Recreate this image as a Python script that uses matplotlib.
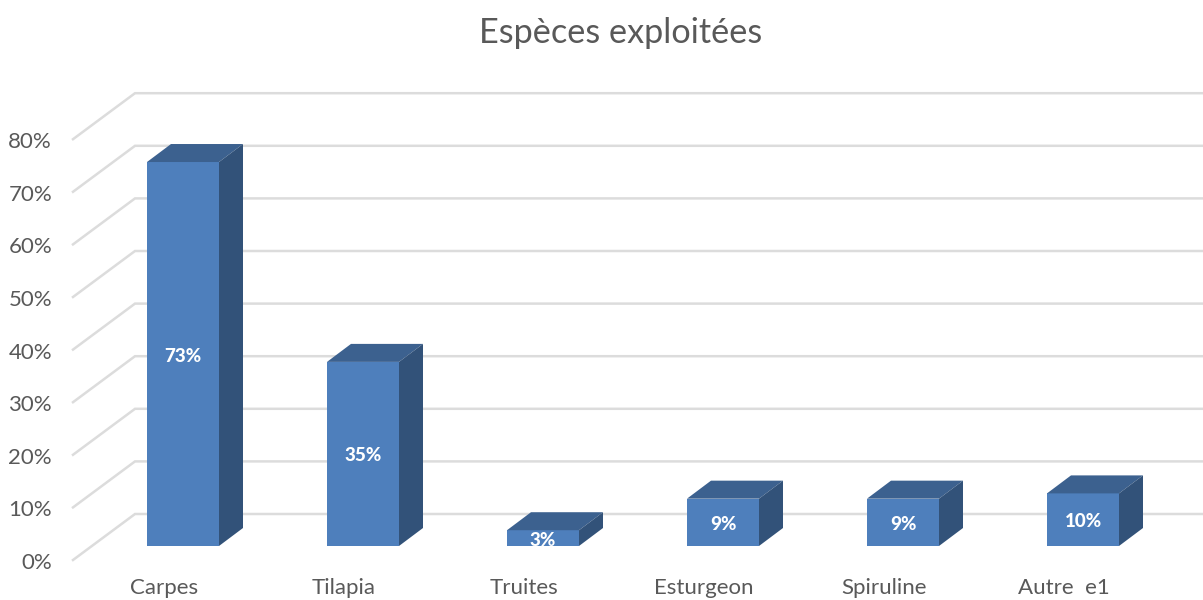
import matplotlib.pyplot as plt
import numpy as np

categories = ['Carpes', 'Tilapia', 'Truites', 'Esturgeon', 'Spiruline', 'Autre  e1']
values = [73, 35, 3, 9, 9, 10]
ticks = [0, 10, 20, 30, 40, 50, 60, 70, 80]
tick_labels = ['0%', '10%', '20%', '30%', '40%', '50%', '60%', '70%', '80%']

plt.rcParams['font.family'] = ['Lato', 'DejaVu Sans']

# pixel scale of the pseudo 3D projection
px_cat = 180
px_val = 5.26
to_cat = 1 / px_cat
to_val = 1 / px_val

fig = plt.figure(figsize=(12.03, 6.0), dpi=100)
ax = fig.add_axes([0, 0, 1, 1])
ax.set_xlim(-183 * to_cat, (1203 - 183) * to_cat)
ax.set_ylim(-54 * to_val, 546 * to_val)
ax.axis('off')

# floor offsets: front edge of the floor, back wall, depth of a bar
floor_dx, floor_dy = -110 * to_cat, -14 * to_val
wall_dx, wall_dy = -48 * to_cat, 32 * to_val
bar_dx, bar_dy = 24 * to_cat, 18 * to_val
right_end = (1203 - 183) * to_cat

# wall gridlines with their slanted floor part
for t, lab in zip(ticks, tick_labels):
    ax.plot([floor_dx, wall_dx, right_end], [t + floor_dy, t + wall_dy, t + wall_dy],
            color='#dcdcdc', lw=1.8, solid_joinstyle='miter', zorder=1)
    ax.text(-131 * to_cat, t + floor_dy - 3 * to_val, lab, ha='right', va='center',
            fontsize=16, color='#595959')

# bars: front, top and side faces
half = 36 * to_cat
for i, v in enumerate(values):
    ax.bar(i, v, width=2 * half, color='#4e7fbc', zorder=3)
    ax.fill([i - half, i + half, i + half + bar_dx, i - half + bar_dx],
            [v, v, v + bar_dy, v + bar_dy], color='#3c618f', lw=0, zorder=3)
    ax.fill([i + half, i + half + bar_dx, i + half + bar_dx, i + half],
            [0, bar_dy, v + bar_dy, v], color='#325279', lw=0, zorder=3)
    ax.text(i, v / 2 - 2 * to_val, f'{v}%', ha='center', va='center', fontsize=13.5,
            fontweight='black', color='white', zorder=4)
    # category names sit on a baseline just inside the bottom edge
    ax.text(i - 19 * to_cat, -47.5 * to_val, categories[i], ha='center', va='baseline',
            fontsize=16, color='#595959')

ax.text(438 * to_cat, 513 * to_val, 'Espèces exploitées', ha='center', va='center',
        fontsize=24.7, color='#595959')

fig.savefig('out.png', dpi=100)
